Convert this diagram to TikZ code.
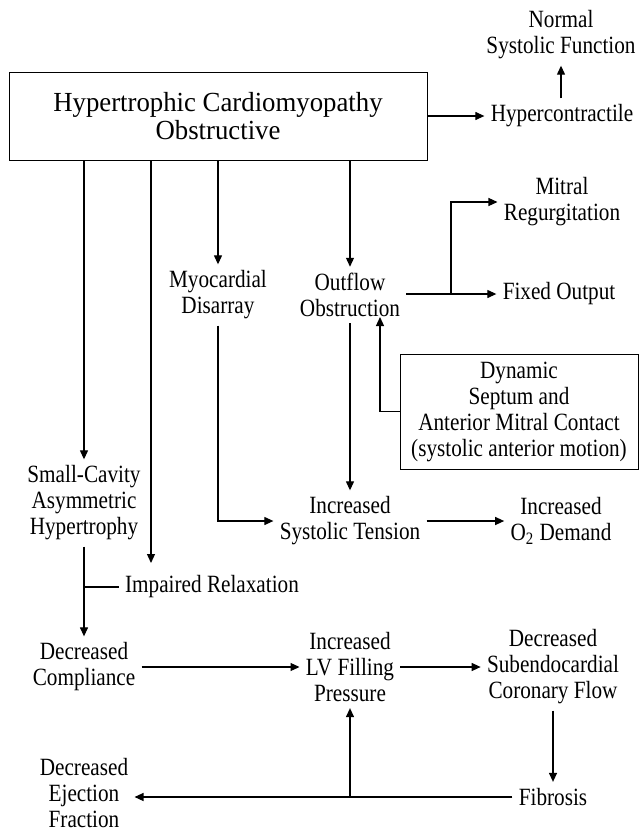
\documentclass[tikz,border=0pt]{standalone}
\usepackage{fontspec}
\setmainfont{Liberation Serif}
\newfontfamily\narrowfont{Liberation Serif}[FakeStretch=0.855]
\usepackage{tikz}
\usetikzlibrary{arrows.meta, positioning, calc}

\begin{document}
\begin{tikzpicture}[x=0.5pt, y=-0.5pt,
  label/.style={align=center, inner sep=3pt, font={\narrowfont\fontsize{12.4}{13}\selectfont}},
  titlebox/.style={draw, line width=0.5pt, minimum width=209pt, minimum height=44pt,
                   align=center, font={\narrowfont\fontsize{13.8}{14}\selectfont\addfontfeature{FakeStretch=0.97}}},
  notebox/.style={draw, line width=0.5pt, minimum width=119pt, minimum height=57.5pt,
                  align=center, inner sep=2pt, font={\narrowfont\fontsize{12.4}{13}\selectfont}},
  arr/.style={-{Triangle[length=4.5pt, width=4pt]}, line width=0.6pt},
  link/.style={line width=0.6pt}]
  \useasboundingbox (0,0) rectangle (639,831);

  % Top row
  \node[titlebox] (title) at (218,116) {Hypertrophic Cardiomyopathy\\Obstructive};
  \node[label] (hyper) at (562,116) {Hypercontractile};
  \node[label] (normal) at (561,35) {Normal\\Systolic Function};

  % Second row
  \node[label] (myo) at (218,295) {Myocardial\\Disarray};
  \node[label] (outflow) at (350,295) {Outflow\\Obstruction};
  \node[label] (mitral) at (562,202) {Mitral\\Regurgitation};
  \node[label] (fixed) at (559,294) {Fixed Output};
  \node[notebox] (sam) at (519,411.5) {Dynamic\\Septum and\\Anterior Mitral Contact\\(systolic anterior motion)};

  % Middle rows
  \node[label] (smc) at (84,503) {Small-Cavity\\Asymmetric\\Hypertrophy};
  \node[label] (tension) at (350,521) {Increased\\Systolic Tension};
  \node[label] (demand) at (561,521) {Increased\\O\textsubscript{2} Demand};
  \node[label] (impaired) at (212,587) {Impaired Relaxation};

  % Bottom rows
  \node[label] (compl) at (84,667) {Decreased\\Compliance};
  \node[label] (filling) at (350,667) {Increased\\LV Filling\\Pressure};
  \node[label] (flow) at (553,667) {Decreased\\Subendocardial\\Coronary Flow};
  \node[label] (fibrosis) at (553,797) {Fibrosis};
  \node[label] (ejection) at (84,793) {Decreased\\Ejection\\Fraction};

  % Free ends
  \coordinate (impin) at (151,563);
  \coordinate (split) at (451,294);
  \coordinate (samtip) at (380,317);

  % Arrows from the title box
  \draw[arr] (title.east) -- (hyper.west);
  \draw[arr] (hyper.north -| normal) -- (normal.south);
  \foreach \n in {smc, myo, outflow}
    \draw[arr] (title.south -| \n) -- (\n.north);
  \draw[arr] (title.south -| impin) -- (impin);

  % Outflow branch
  \draw[arr] (outflow.east |- fixed.west) -- (fixed.west);
  \draw[arr] (split) |- (mitral.west);
  \draw[arr] (sam.west) -| (samtip);
  \draw[arr] (outflow.south) -- (tension.north);
  \draw[arr] (myo.south) |- (tension.west);
  \draw[arr] (tension.east) -- (demand.west);

  % Left column
  \draw[arr] (smc.south) -- (compl.north);
  \draw[link] (smc.south |- impaired.west) -- (impaired.west);

  % Bottom loop
  \draw[arr] (compl.east) -- (filling.west);
  \draw[arr] (filling.east) -- (flow.west);
  \draw[arr] (flow.south) -- (fibrosis.north);
  \draw[arr] (fibrosis.west) -- (ejection.east |- fibrosis.west);
  \draw[arr] (fibrosis.west -| filling) -- (filling.south);
\end{tikzpicture}
\end{document}
